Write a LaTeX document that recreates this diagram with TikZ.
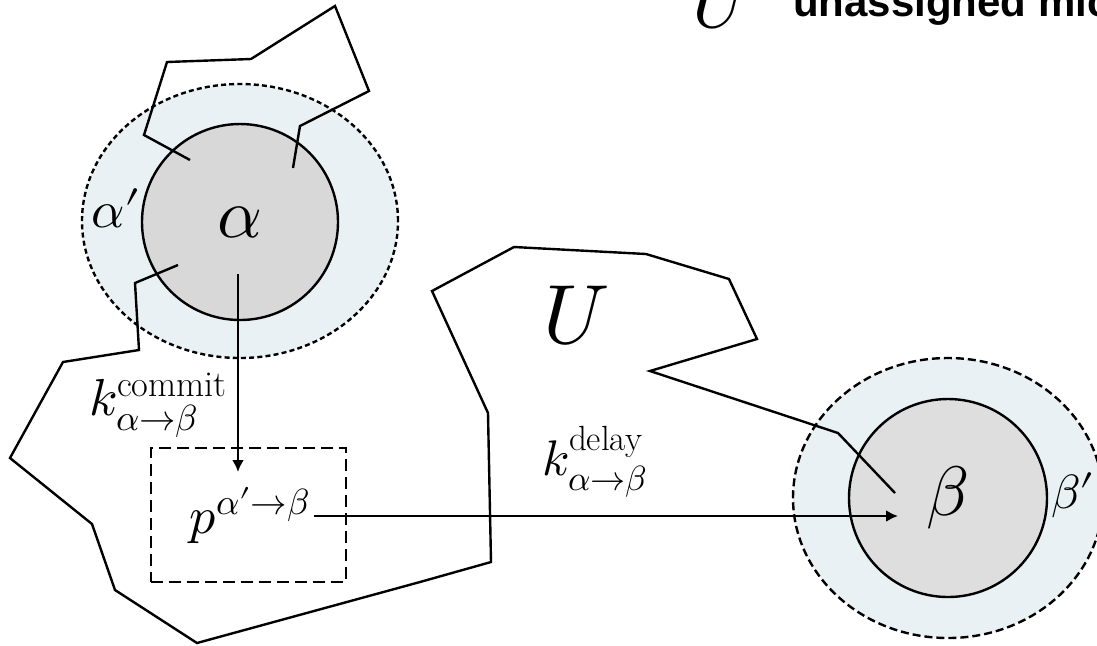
\documentclass[tikz,border=0pt]{standalone}
\usepackage{fontspec}
\usepackage{unicode-math}
\setmathfont{Latin Modern Math}
\newfontfamily\hv{Liberation Sans}
\usetikzlibrary{arrows.meta,shapes.geometric}
\definecolor{halo}{RGB}{233,241,244}
\definecolor{coreA}{RGB}{216,216,216}
\definecolor{coreB}{RGB}{222,222,222}
\tikzset{
  outerA/.style={ellipse, draw, fill=halo, dash pattern=on 2.5pt off 1.6pt, inner sep=0pt},
  outerB/.style={ellipse, draw, fill=halo, dash pattern=on 4pt off 2pt, inner sep=0pt},
  core/.style={circle, draw, inner sep=0pt},
  lbl/.style={inner sep=0pt},
  wall/.style={draw, line join=miter},
  flow/.style={draw, -{Latex[length=6pt,width=6pt]}},
  pbox/.style={draw, dash pattern=on 6pt off 3pt, inner sep=0pt}
}
\begin{document}
\begin{tikzpicture}[x=0.5pt,y=-0.5pt, line width=1.2pt]
\useasboundingbox (0,0) rectangle (1097,645);
\clip (0,0) rectangle (1097,645);

% alpha region
\node[outerA, minimum width=158pt, minimum height=137pt] (aout) at (240,221) {};
\node[core, fill=coreA, minimum size=98pt, font=\fontsize{35}{40}\selectfont] (acore) at (240,222) {$\alpha$};
\node[lbl, anchor=base, font=\fontsize{26}{30}\selectfont] (aprime) at (116,227) {$\alpha\prime$};

% beta region
\node[outerB, minimum width=155pt, minimum height=140pt] (bout) at (948,498) {};
\node[core, fill=coreB, minimum size=99pt, font=\fontsize{35}{40}\selectfont] (bcore) at (948,498) {$\beta$};
\node[lbl, anchor=base, font=\fontsize{24}{28}\selectfont] (bprime) at (1073,508) {$\beta\prime$};

% upper boundary
\draw[wall] (190,160) -- (144,135) -- (167,62) -- (251,59) -- (335,6) -- (369,91) -- (300,126) -- (293,168);

% U boundary
\draw[wall] (178,265) -- (135,283) -- (139,350) -- (63,362) -- (10,458) -- (92,524) -- (115,590) -- (197,643)
  -- (420,582) -- (491,562) -- (488,413) -- (432,291) -- (514,247) -- (646,254) -- (729,279) -- (757,339)
  -- (650,371) -- (838,433) -- (895,493);

% p box
\node[pbox, minimum width=97.5pt, minimum height=67pt] (box) at (248.5,515) {};
\node[lbl, anchor=base west, font=\fontsize{26}{30}\selectfont] (plab) at (188,533) {$p^{\alpha\prime\to\beta}$};

% labels
\node[lbl, anchor=base west, font=\fontsize{26}{30}\selectfont] (kc) at (88,415) {$k^{\mathrm{commit}}_{\alpha\to\beta}$};
\node[lbl, anchor=base west, font=\fontsize{25}{30}\selectfont] (kd) at (541,475) {$k^{\mathrm{delay}}_{\alpha\to\beta}$};
\node[lbl, anchor=base, font=\fontsize{42}{48}\selectfont] (ulab) at (577,343) {$U$};

% top legend
\node[lbl, anchor=base, font=\fontsize{38}{44}\selectfont] (utop) at (722,27) {$U$};
\node[lbl, anchor=base west, font=\hv\bfseries\fontsize{21}{25}\selectfont] (legend) at (792,16) {unassigned microstates};

% arrows
\coordinate (aOut) at (238,274);
\coordinate (pIn) at (238,472);
\coordinate (pOut) at (314,516);
\coordinate (bIn) at (898,516);
\draw[flow] (aOut) -- (pIn);
\draw[flow] (pOut) -- (bIn);
\end{tikzpicture}
\end{document}
